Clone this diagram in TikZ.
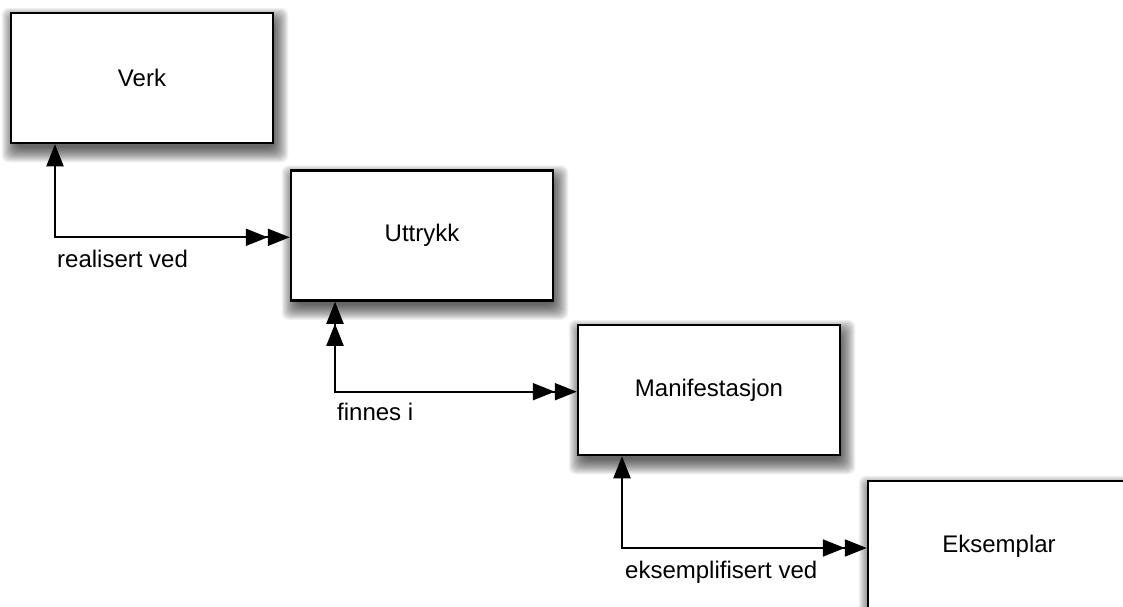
\documentclass[tikz,border=0pt]{standalone}
\usepackage{fontspec}
\setmainfont{Liberation Sans}
\usetikzlibrary{arrows.meta,backgrounds,calc}
\tikzset{
  box/.style={draw=black,line width=2.5pt,fill=white,minimum width=262pt,minimum height=130pt,inner sep=0pt,font=\fontsize{24}{28}\selectfont},
  lbl/.style={inner sep=0pt,font=\fontsize{24}{28}\selectfont},
  conn/.style={line width=2pt},
  tip/.tip={Triangle[length=22pt,width=17pt,sep=0pt]},
}
\begin{document}
\begin{tikzpicture}[x=1pt,y=1pt]
\useasboundingbox (0,0) rectangle (1123,-606);
\clip (0,0) rectangle (1123,-606);
\node[box] (verk) at (142,-78) {Verk};
\node[box] (uttrykk) at (422,-235.5) {Uttrykk};
\node[box] (manif) at (709,-390) {Manifestasjon};
\node[box] (eks) at (999,-546) {Eksemplar};
\begin{scope}[on background layer]
  \foreach \n in {verk,uttrykk,manif,eks}{
    \foreach \r in {-4,...,11}{
      \fill[black,opacity=0.055,rounded corners=7pt]
        ($(\n.north west)+(3-\r,-7+\r)$) rectangle ($(\n.south east)+(3+\r,-7-\r)$);
    }
  }
\end{scope}
\coordinate (c1) at (55,-237.3);
\coordinate (c2) at (335,-391.7);
\coordinate (c3) at (622,-548);
\draw[conn,{tip}-{tip[]tip}] (verk.south -| c1) -- (c1) -- (c1 -| uttrykk.west);
\draw[conn,{tip[]tip}-{tip[]tip}] (uttrykk.south -| c2) -- (c2) -- (c2 -| manif.west);
\draw[conn,{tip}-{tip[]tip}] (manif.south -| c3) -- (c3) -- (c3 -| eks.west);
\node[lbl,anchor=base west] (l1) at (57,-267.3) {realisert ved};
\node[lbl,anchor=base west] (l2) at (337,-420.7) {finnes i};
\node[lbl,anchor=base west] (l3) at (625,-578) {eksemplifisert ved};
\end{tikzpicture}
\end{document}
